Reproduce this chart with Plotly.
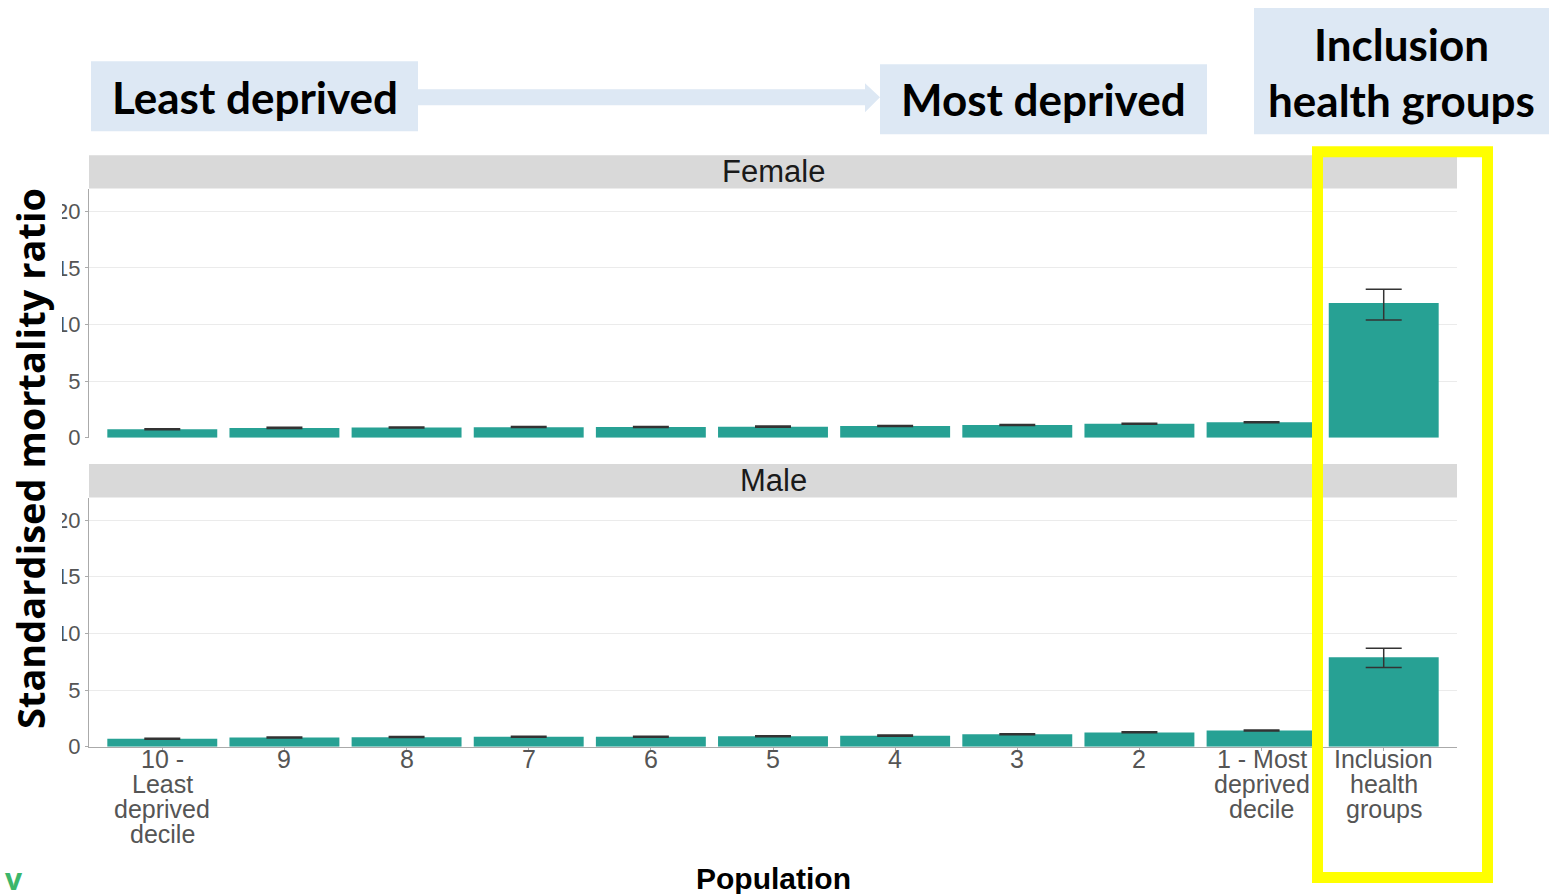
import plotly.graph_objects as go

# The photographed window is ~909px tall internally and scaled to 894px in the picture,
# so the figure fills 909px and positions are given as fractions of the 894px picture.
REF_W, REF_H = 1549, 894
W, H = 1549, 909

# ---------------- data ----------------
categories = ["10 - Least deprived decile", "9", "8", "7", "6", "5", "4", "3", "2",
              "1 - Most deprived decile", "Inclusion health groups"]
tick_labels = [["10 -", "Least", "deprived", "decile"], ["9"], ["8"], ["7"], ["6"], ["5"],
               ["4"], ["3"], ["2"], ["1 - Most", "deprived", "decile"],
               ["Inclusion", "health", "groups"]]

female_smr = [0.74, 0.86, 0.90, 0.93, 0.94, 0.97, 1.02, 1.11, 1.23, 1.36, 11.9]
female_lower = [0.70, 0.82, 0.86, 0.89, 0.90, 0.93, 0.98, 1.07, 1.19, 1.32, 10.4]
female_upper = [0.79, 0.91, 0.95, 0.98, 0.99, 1.02, 1.07, 1.16, 1.28, 1.41, 13.1]

male_smr = [0.70, 0.80, 0.84, 0.87, 0.88, 0.92, 0.97, 1.10, 1.26, 1.42, 7.9]
male_lower = [0.66, 0.76, 0.80, 0.83, 0.84, 0.88, 0.93, 1.06, 1.22, 1.38, 7.0]
male_upper = [0.75, 0.85, 0.89, 0.92, 0.93, 0.97, 1.02, 1.15, 1.31, 1.47, 8.7]

y_ticks = [0, 5, 10, 15, 20]

BAR = "#27a194"
ERR = "#333333"
BOX = "#dde8f4"


def px_x(p):
    return p / REF_W


def px_y(p):
    return 1 - p / REF_H


fig = go.Figure()


def add_panel(vals, lo, hi, xa, ya):
    fig.add_trace(go.Bar(
        x=categories, y=vals, width=0.9, marker=dict(color=BAR, line=dict(width=0)),
        error_y=dict(type="data", symmetric=False,
                     array=[h - v for h, v in zip(hi, vals)],
                     arrayminus=[v - l for l, v in zip(lo, vals)],
                     color=ERR, thickness=1.5, width=18),
        xaxis=xa, yaxis=ya, showlegend=False, hoverinfo="skip"))


add_panel(female_smr, female_lower, female_upper, "x", "y")
add_panel(male_smr, male_lower, male_upper, "x2", "y2")

xdom = [px_x(89), px_x(1457)]
yaxis_common = dict(range=[0, 22.0], tickvals=y_ticks, ticktext=[str(v) for v in y_ticks],
                    showgrid=True, gridcolor="#ebebeb", gridwidth=1, zeroline=False,
                    showline=True, linecolor="#aaaaaa", linewidth=1,
                    ticks="outside", ticklen=3, tickcolor="#aaaaaa",
                    tickfont=dict(family="Liberation Sans", size=22, color="#555555"))

fig.update_layout(
    width=W, height=H, margin=dict(l=0, r=0, t=0, b=0),
    paper_bgcolor="white", plot_bgcolor="white", bargap=0.1,
    xaxis=dict(domain=xdom, anchor="y", type="category", range=[-0.6, 10.6],
               categoryorder="array", categoryarray=categories,
               showticklabels=False, showgrid=False, zeroline=False, showline=False, ticks=""),
    yaxis=dict(domain=[px_y(436.7), px_y(188.1)], anchor="x", **yaxis_common),
    xaxis2=dict(domain=xdom, anchor="y2", type="category", range=[-0.6, 10.6],
                categoryorder="array", categoryarray=categories,
                tickvals=categories, showticklabels=False,
                showgrid=False, zeroline=False, showline=True, linecolor="#aaaaaa", linewidth=1,
                ticks="outside", ticklen=3, tickcolor="#aaaaaa"),
    yaxis2=dict(domain=[px_y(745), px_y(496.4)], anchor="x2", **yaxis_common),
)

shapes = []
annotations = []

# x category labels (multi-line, tight line height as in the reference), placed on the axis scale
for idx, lines in enumerate(tick_labels):
    for i, line in enumerate(lines):
        annotations.append(dict(xref="x2", yref="paper", x=idx, y=px_y(757 + 25 * i), text=line,
                                showarrow=False, xanchor="center", yanchor="middle",
                                font=dict(family="Liberation Sans", size=25, color="#555555")))

# facet strips
for (top, bot, label) in [(155, 188.1, "Female"), (463, 496.4, "Male")]:
    shapes.append(dict(type="rect", xref="paper", yref="paper", x0=px_x(89), x1=px_x(1457),
                       y0=px_y(bot), y1=px_y(top), fillcolor="#d9d9d9", line=dict(width=0), layer="below"))
    annotations.append(dict(xref="paper", yref="paper", x=px_x(773), y=px_y((top + bot) / 2),
                            text=label, showarrow=False, xanchor="center", yanchor="middle",
                            font=dict(family="Liberation Sans", size=31, color="#1a1a1a")))

# white mask clipping the tick labels at left (as in reference)
shapes.append(dict(type="rect", xref="paper", yref="paper", x0=0, x1=px_x(62),
                   y0=px_y(760), y1=px_y(190), fillcolor="white", line=dict(width=0), layer="above"))

# callout boxes
for (x0, x1, y0, y1) in [(91, 418, 61, 131), (880, 1207, 64, 134), (1254, 1549, 8, 134)]:
    shapes.append(dict(type="rect", xref="paper", yref="paper", x0=px_x(x0), x1=px_x(x1),
                       y0=px_y(y1), y1=px_y(y0), fillcolor=BOX, line=dict(width=0), layer="above"))

# arrow
pts = [(418, 89), (865, 89), (865, 83), (880, 97), (865, 112), (865, 105), (418, 105)]
path = "M " + " L ".join(f"{px_x(a):.5f},{px_y(b):.5f}" for a, b in pts) + " Z"
shapes.append(dict(type="path", xref="paper", yref="paper", path=path, fillcolor=BOX,
                   line=dict(width=0), layer="above"))

# yellow highlight frame
shapes.append(dict(type="rect", xref="paper", yref="paper", x0=px_x(1317.5), x1=px_x(1487.5),
                   y0=px_y(875.5), y1=px_y(151.5), fillcolor="rgba(0,0,0,0)",
                   line=dict(color="#ffff00", width=11), layer="above"))

big = dict(family="Lato", size=44, color="black", weight="bold")
for (x, y, t) in [(254.5, 97, "Least deprived"), (1043.5, 99, "Most deprived"),
                  (1401, 44, "Inclusion"), (1401, 100, "health groups")]:
    annotations.append(dict(xref="paper", yref="paper", x=px_x(x), y=px_y(y), text=t,
                            showarrow=False, xanchor="center", yanchor="middle", font=big))

# axis titles
annotations.append(dict(xref="paper", yref="paper", x=px_x(30), y=px_y(458), text="Standardised mortality ratio",
                        textangle=-90, showarrow=False, xanchor="center", yanchor="middle",
                        font=dict(family="Open Sans", size=38, color="black", weight="bold")))
annotations.append(dict(xref="paper", yref="paper", x=px_x(773), y=px_y(877), text="Population",
                        showarrow=False, xanchor="center", yanchor="middle", borderpad=0,
                        font=dict(family="Liberation Sans", size=30, color="black", weight="bold")))
annotations.append(dict(xref="paper", yref="paper", x=px_x(14), y=px_y(877), text="v",
                        showarrow=False, xanchor="center", yanchor="middle", borderpad=0,
                        font=dict(family="Open Sans", size=30, color="#3cb66b", weight="bold")))

fig.update_layout(shapes=shapes, annotations=annotations)
fig.write_html(
    "out.html",
    config={"displayModeBar": False},
    post_script="document.body.style.margin='0';document.body.style.padding='0';"
                "document.documentElement.style.overflow='hidden';document.body.style.overflow='hidden';",
)
